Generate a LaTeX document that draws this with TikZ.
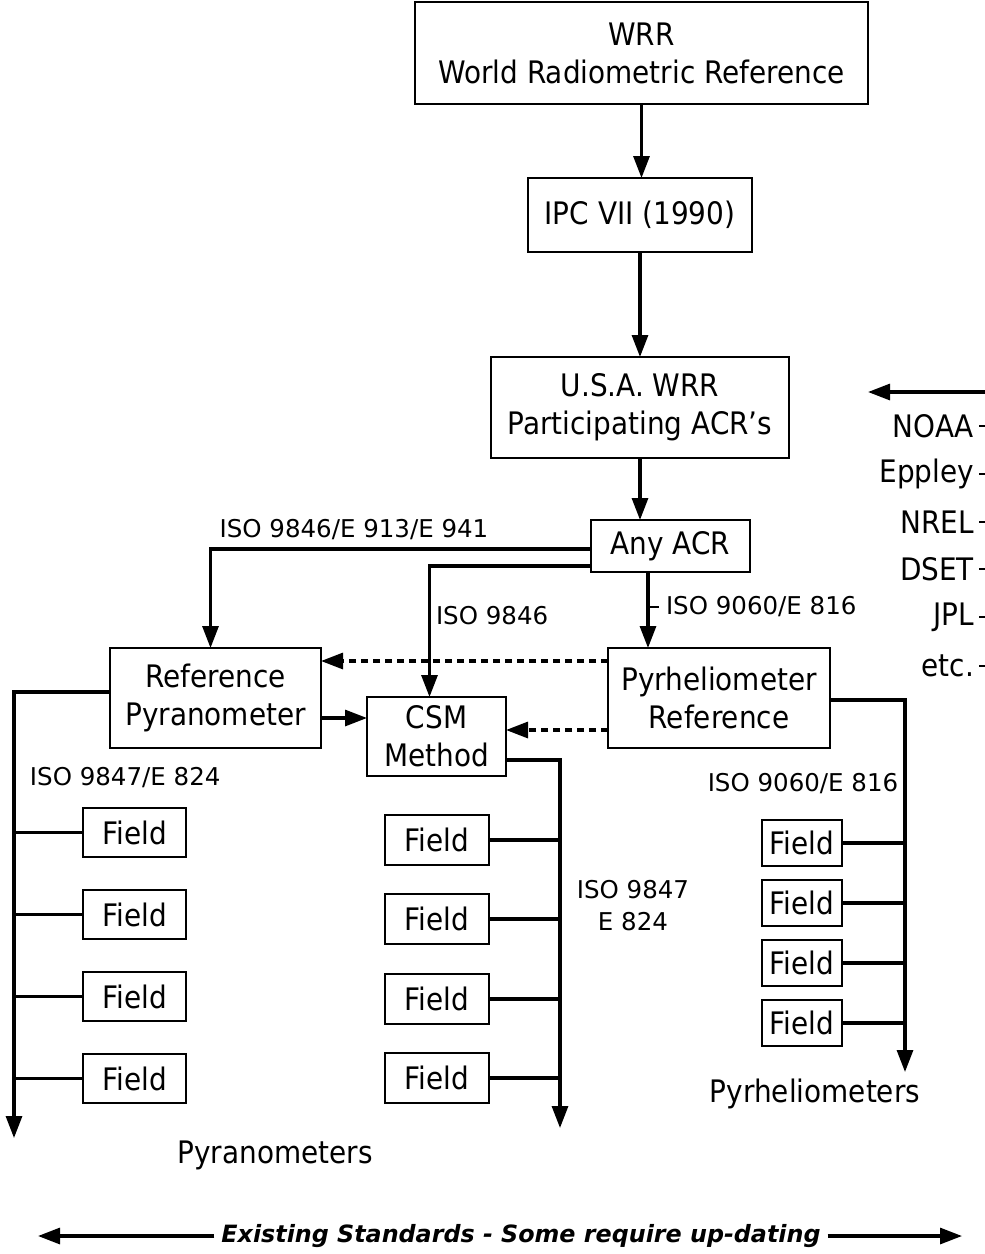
\documentclass[tikz,border=0pt]{standalone}
\usepackage{fontspec}
\setmainfont{DejaVu Sans}
\newfontfamily\tah{DejaVu Sans}[FakeStretch=0.9]
\usetikzlibrary{arrows.meta,calc}
\begin{document}
\begin{tikzpicture}[x=1pt,y=-1pt,
  every node/.style={inner sep=0pt,outer sep=0pt},
  big/.style={font=\tah\fontsize{31}{38}\selectfont,align=center},
  box/.style={draw,line width=2.8pt,big},
  fieldbox/.style={box,minimum height=49pt},
  lbl/.style={font=\fontsize{24.5}{32}\selectfont,align=center},
  conn/.style={line width=3.1pt},
  arr/.style={conn,-{Triangle[length=22pt,width=16pt]}},
  darr/.style={arr,dash pattern=on 7pt off 5pt}]
\useasboundingbox (0,0) rectangle (985,1254);
% main boxes
\node[box,minimum width=453pt,minimum height=102pt] (wrr) at (641.5,53) {WRR\\World Radiometric Reference};
\node[box,minimum width=224pt,minimum height=74pt] (ipc) at (640,215) {IPC VII (1990)};
\node[box,minimum width=298pt,minimum height=101pt] (usa) at (640,407.5) {U.S.A. WRR\\Participating ACR’s};
\node[box,minimum width=159pt,minimum height=52pt] (acr) at (670.5,546) {Any ACR};
\node[box,minimum width=211pt,minimum height=100pt] (refpyr) at (215.5,698) {Reference\\Pyranometer};
\node[box,minimum width=222pt,minimum height=100pt] (pyrh) at (719,698) {Pyrheliometer\\Reference};
\node[box,minimum width=139pt,minimum height=79pt] (csm) at (436.5,736.5) {CSM\\Method};
% field boxes
\node[fieldbox,minimum width=103pt] (lf1) at (134.5,832.5) {Field};
\node[fieldbox,minimum width=103pt] (lf2) at (134.5,914.5) {Field};
\node[fieldbox,minimum width=103pt] (lf3) at (134.5,996.5) {Field};
\node[fieldbox,minimum width=103pt] (lf4) at (134.5,1078.5) {Field};
\node[fieldbox,minimum width=104pt,minimum height=50pt] (mf1) at (437,840) {Field};
\node[fieldbox,minimum width=104pt,minimum height=50pt] (mf2) at (437,919) {Field};
\node[fieldbox,minimum width=104pt,minimum height=50pt] (mf3) at (437,999) {Field};
\node[fieldbox,minimum width=104pt,minimum height=50pt] (mf4) at (437,1078) {Field};
\node[fieldbox,minimum width=80pt,minimum height=46pt] (rf1) at (802,843) {Field};
\node[fieldbox,minimum width=80pt,minimum height=46pt] (rf2) at (802,903) {Field};
\node[fieldbox,minimum width=80pt,minimum height=46pt] (rf3) at (802,963) {Field};
\node[fieldbox,minimum width=80pt,minimum height=46pt] (rf4) at (802,1023) {Field};
% top chain
\draw[arr] (wrr.south) -- (wrr.south |- ipc.north);
\draw[arr] (ipc.south) -- (ipc.south |- usa.north);
\draw[arr] (usa.south) -- (usa.south |- acr.north);
% from Any ACR
\draw[arr] (acr.west |- 0,549) -| ([xshift=-5pt]refpyr.north);
\draw[arr] (acr.west |- 0,566) -| ([xshift=-7pt]csm.north);
\draw[arr] ([xshift=-22.5pt]acr.south) -- ([xshift=-22.5pt]acr.south |- pyrh.north);
\coordinate (tick) at ([xshift=-22.5pt]acr.south |- 0,607);
\draw[line width=1.8pt] (tick) -- ++(11,0);
% dashed
\draw[darr] (pyrh.west |- 0,661) -- (refpyr.east |- 0,661);
\draw[darr] (pyrh.west |- 0,730) -- (csm.east |- 0,730);
\draw[arr] (refpyr.east |- 0,718) -- (csm.west |- 0,718);
% trunks
\coordinate (lend) at (14,1138);
\coordinate (mend) at (560,1128);
\coordinate (rend) at (905,1072);
\draw[arr] (refpyr.west |- 0,692) -| (lend);
\draw[arr] (csm.east |- 0,760) -| (mend);
\draw[arr] (pyrh.east |- 0,700) -| (rend);
\foreach \f in {lf1,lf2,lf3,lf4} \draw[conn] (\f.west) -- (\f.west -| lend);
\foreach \f in {mf1,mf2,mf3,mf4} \draw[conn] (\f.east) -- (\f.east -| mend);
\foreach \f in {rf1,rf2,rf3,rf4} \draw[conn] (\f.east) -- (\f.east -| rend);
% labels
\node[lbl] (l1) at (354,530) {ISO 9846/E 913/E 941};
\node[lbl,anchor=west] (l2) at (436,616) {ISO 9846};
\node[lbl,anchor=west] (l3) at (666,607) {ISO 9060/E 816};
\node[lbl,anchor=west] (l4) at (30,778) {ISO 9847/E 824};
\node[lbl] (l5) at (633,906) {ISO 9847\\E 824};
\node[lbl] (l6) at (803,784) {ISO 9060/E 816};
\node[big] (pyrano) at (275,1155) {Pyranometers};
\node[big] (pyrhel) at (815,1094) {Pyrheliometers};
% right side list
\coordinate (rtop) at (985,392);
\draw[arr] (rtop) -- (868,392);
\foreach \t/\y [count=\i] in {NOAA/426,Eppley/474,NREL/522,DSET/569,JPL/617,etc./666}{
  \node[big,anchor=east] (org\i) at (974,\y) {\t};
  \draw[line width=1.8pt] ([xshift=5pt]org\i.east) -- ++(7,0);
}
% bottom
\node[font=\fontsize{23.8}{28}\selectfont\bfseries\itshape] (std) at (521,1236) {Existing Standards - Some require up-dating};
\coordinate (bl) at (38,1236);
\coordinate (br) at (962,1236);
\draw[arr] ([xshift=-7pt]std.west) -- (bl);
\draw[arr] ([xshift=7pt]std.east) -- (br);
\end{tikzpicture}
\end{document}
